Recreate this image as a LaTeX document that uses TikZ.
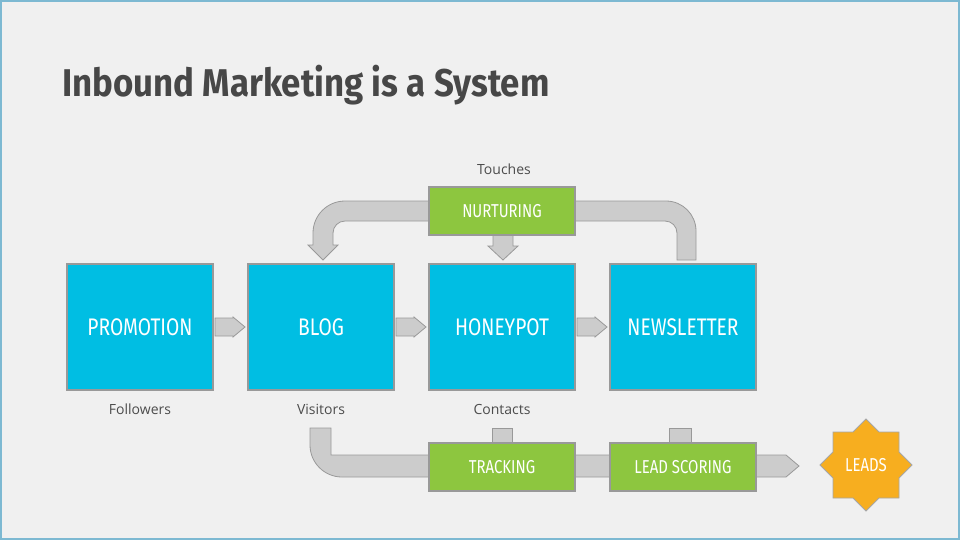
\documentclass[tikz,border=0pt]{standalone}
\usepackage{fontspec}
\setmainfont{Open Sans}
\newfontfamily\titlefont{Fira Sans}
\begin{document}
\begin{tikzpicture}[x=0.75pt,y=-0.75pt,
  box/.style={draw=black!40,line width=0.8pt,fill=cyanbox,minimum width=109.5pt,minimum height=94.5pt,inner sep=0pt,text=white,font=\titlefont\fontsize{18}{20}\selectfont},
  gbox/.style={draw=black!40,line width=0.8pt,fill=greenbox,minimum width=109.5pt,minimum height=36pt,inner sep=0pt,text=white,font=\titlefont\fontsize{14}{16}\selectfont},
  lab/.style={text=black!70,font=\fontsize{10.5}{12}\selectfont},
  band/.style={draw=black!40,line width=0.6pt,fill=black!20}]
\definecolor{cyanbox}{RGB}{0,190,227}
\definecolor{greenbox}{RGB}{141,198,63}
\definecolor{orangestar}{RGB}{247,174,31}
\newcommand{\cnd}[1]{\scalebox{0.8}[1]{#1}}
\fill[black!6] (0,0) rectangle (960,540);
\draw[cyan!70!black!60,line width=0.8pt] (1,1) rectangle (959,539);
\useasboundingbox (0,0) rectangle (960,540);
\node[anchor=base west,text=black!72,font=\titlefont\bfseries\fontsize{29}{32}\selectfont,inner sep=0] (title) at (62,96) {\scalebox{0.9}[1]{Inbound Marketing is a System}};
% bands
\draw[band] (440,201) -- (345,201) arc[start angle=270,end angle=180,radius=32] -- (313,245) -- (308,245) -- (323,260) -- (338,245) -- (333,245) -- (333,233) arc[start angle=180,end angle=270,radius=12] -- (440,221) -- cycle;
\draw[band] (560,201) -- (666,201) arc[start angle=270,end angle=360,radius=30] -- (696,260) -- (677,260) -- (677,233) arc[start angle=0,end angle=-90,radius=12] -- (560,221) -- cycle;
\draw[band] (493,230) -- (493,246) -- (488,246) -- (503,260) -- (518,246) -- (513,246) -- (513,230) -- cycle;
\draw[band] (310,428) -- (331,428) -- (331,455) -- (786,455) -- (799,466) -- (786,477) -- (342,477) arc[start angle=90,end angle=180,radius=32] -- cycle;
\draw[band] (492,428) rectangle (512,450);
\draw[band] (669,428) rectangle (691,450);
\foreach \x in {215,396,577}{
  \draw[band] (\x,318) -- (\x+18,318) -- (\x+18,317) -- (\x+30,327) -- (\x+18,337) -- (\x+18,336) -- (\x,336) -- cycle;}
% boxes
\node[box] (promo) at (140,327) {\cnd{PROMOTION}};
\node[box] (blog) at (321,327) {\cnd{BLOG}};
\node[box] (honey) at (502,327) {\cnd{HONEYPOT}};
\node[box] (news) at (683,327) {\cnd{NEWSLETTER}};
\node[gbox] (nurt) at (502,211) {\cnd{NURTURING}};
\node[gbox] (track) at (502,467) {\cnd{TRACKING}};
\node[gbox] (score) at (683,467) {\cnd{LEAD SCORING}};
\draw[draw=black!35,line width=0.6pt,fill=orangestar] (866,465) ++(46,0) -- ++(-13,13) -- ++(0,20) -- ++(-20,0) -- ++(-13,13)
  -- ++(-13,-13) -- ++(-20,0) -- ++(0,-20) -- ++(-13,-13) -- ++(13,-13) -- ++(0,-20) -- ++(20,0) -- ++(13,-13)
  -- ++(13,13) -- ++(20,0) -- ++(0,20) -- cycle;
\node[text=white,font=\titlefont\fontsize{14}{16}\selectfont] (leads) at (866,465) {\cnd{LEADS}};
\node[lab] (l1) at (140,409) {Followers};
\node[lab] (l2) at (321,409) {Visitors};
\node[lab] (l3) at (502,409) {Contacts};
\node[lab] (l4) at (504,169) {Touches};
\end{tikzpicture}
\end{document}
